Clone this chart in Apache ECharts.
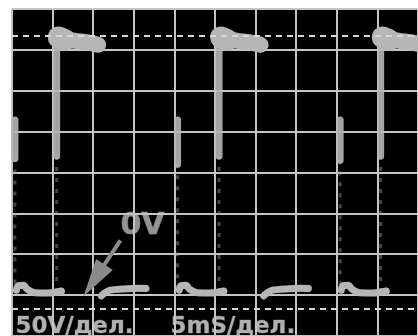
<!DOCTYPE html>
<html>
<head>
<meta charset="utf-8">
<script src="https://cdn.jsdelivr.net/npm/echarts@6/dist/echarts.min.js"></script>
<style>
html,body{margin:0;padding:0;background:#fff;}
#c{width:418px;height:336px;}
</style>
</head>
<body>
<div id="c"></div>
<script>
// Time axis in ms (5 ms/div), voltage in V (50 V/div)
var timeTicks = [0, 5, 10, 15, 20, 25, 30, 35, 40, 45, 50];
var voltTicks = [-50, 0, 50, 100, 150, 200, 250, 300, 350];
var voltLabel = '50V/дел.';
var timeLabel = '5mS/дел.';
var zeroLabel = '0V';

// low (near 0 V) segments of the trace
var lowTrace = [
  [0.55, 6], [0.8, 11.5], [1.4, 12], [1.9, 7], [2.8, 3], [4.4, 2.5], [6.1, 5], null,
  [11.0, -1], [11.4, 2.5], [12.1, 6], [13.7, 7.5], [15.5, 8.5], [16.5, 8], null,
  [20.6, 6], [20.85, 11.5], [21.4, 12], [21.9, 7], [22.8, 3], [24.4, 2.5], [26.1, 5], null,
  [31.0, -1], [31.4, 2.5], [32.1, 6], [33.7, 7.5], [35.5, 8.5], [36.5, 8], null,
  [40.55, 6], [40.8, 11.5], [41.4, 12], [41.9, 7], [42.8, 3], [44.4, 2.5], [46.1, 5]
];
// top plateau after each rising edge
var plateau = [
  [5.6, 316], [6.3, 314], [7.6, 311], [9.3, 309], [10.6, 306], null,
  [25.6, 316], [26.3, 314], [27.6, 311], [29.3, 309], [30.6, 306], null,
  [45.5, 316], [46.2, 314], [47.5, 311], [49.2, 309], [50.5, 306]
];
// thick head of each plateau
var plateauHead = [
  [5.75, 315], [6.5, 312], null,
  [25.75, 315], [26.5, 312], null,
  [45.65, 315], [46.4, 312]
];
// bright parts of the vertical edges
var brightEdges = [
  [0.36, 214], [0.36, 167], null,
  [5.5, 322], [5.5, 170], null,
  [20.39, 214], [20.39, 160], null,
  [25.5, 322], [25.5, 170], null,
  [40.41, 214], [40.41, 165], null,
  [45.4, 322], [45.4, 170]
];
// faint parts of the vertical edges
var faintEdges = [
  [0.36, 167], [0.36, 4], null,
  [5.5, 170], [5.5, 6], null,
  [20.39, 160], [20.39, 4], null,
  [25.5, 170], [25.5, 6], null,
  [40.41, 165], [40.41, 4], null,
  [45.4, 170], [45.4, 6]
];
var dashedLevels = [317, -16.5];
var arrowFrom = [13.35, 67];
var arrowTo = [10.1, 18];

var chart = echarts.init(document.getElementById('c'), null, {renderer: 'canvas'});
var grey = '#b6b6b6';
var lineCol = '#c4c4c4';

chart.setOption({
  animation: false,
  backgroundColor: '#ffffff',
  grid: {left: 12, top: 8.8, width: 412, height: 329.6, show: true, backgroundColor: '#000', borderWidth: 0},
  xAxis: {
    type: 'value', min: timeTicks[0], max: timeTicks[timeTicks.length - 1], interval: 5,
    axisLine: {show: false}, axisTick: {show: false}, axisLabel: {show: false},
    splitLine: {show: true, lineStyle: {color: lineCol, width: 2}}
  },
  yAxis: {
    type: 'value', min: voltTicks[0], max: voltTicks[voltTicks.length - 1], interval: 50,
    axisLine: {show: false}, axisTick: {show: false}, axisLabel: {show: false},
    splitLine: {show: true, lineStyle: {color: lineCol, width: 2}}
  },
  series: [
    {
      type: 'line', data: [], silent: true, z: 1,
      markLine: {
        silent: true, symbol: ['none', 'none'], label: {show: false},
        lineStyle: {color: '#d8d8d8', type: [6, 5], width: 2},
        data: dashedLevels.map(function (v) { return {yAxis: v}; })
      }
    },
    {
      type: 'line', data: faintEdges, connectNulls: false, showSymbol: false, silent: true, z: 2,
      lineStyle: {color: '#9a9a9a', width: 3, opacity: 0.45, type: [4, 7]}
    },
    {
      type: 'line', data: brightEdges, connectNulls: false, showSymbol: false, silent: true, z: 3,
      lineStyle: {color: grey, width: 7, opacity: 0.9, cap: 'round'}
    },
    {
      type: 'line', data: lowTrace, smooth: 0.4, connectNulls: false, showSymbol: false, silent: true, z: 3,
      lineStyle: {color: grey, width: 7, cap: 'round', join: 'round'}
    },
    {
      type: 'line', data: plateau, smooth: 0.4, connectNulls: false, showSymbol: false, silent: true, z: 4,
      lineStyle: {color: grey, width: 16, cap: 'round', join: 'round'}
    },
    {
      type: 'line', data: plateauHead, connectNulls: false, showSymbol: false, silent: true, z: 4,
      lineStyle: {color: grey, width: 22, cap: 'round', join: 'round'}
    },
    {
      type: 'line', data: [], silent: true, z: 5,
      markLine: {
        silent: true, symbol: ['none', 'triangle'], symbolSize: [20, 38], label: {show: false},
        lineStyle: {color: '#8a8a8a', type: 'solid', width: 4},
        data: [[{coord: arrowFrom}, {coord: arrowTo}]]
      }
    }
  ],
  graphic: [
    {type: 'text', left: 15, top: 315, silent: true,
     style: {text: voltLabel, font: 'bold 23px "DejaVu Sans"', fill: '#b0b0b0', stroke: '#3a3a3a', lineWidth: 1}},
    {type: 'text', left: 170, top: 315, silent: true,
     style: {text: timeLabel, font: 'bold 23px "DejaVu Sans"', fill: '#b0b0b0', stroke: '#3a3a3a', lineWidth: 1}},
    {type: 'text', left: 120, top: 211, silent: true,
     style: {text: zeroLabel, font: 'bold 30px "DejaVu Sans"', fill: '#939393', stroke: '#5a5a5a', lineWidth: 1}}
  ]
});
</script>
</body>
</html>
